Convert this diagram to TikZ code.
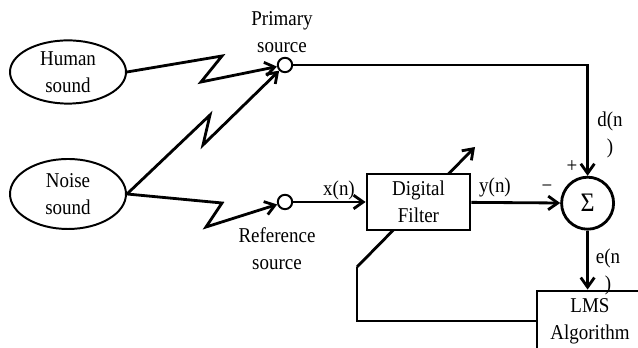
\documentclass[tikz,border=0pt]{standalone}
\usepackage{fontspec}
\setmainfont{Liberation Serif}[FakeStretch=0.9]
\usetikzlibrary{arrows.meta,shapes.geometric}

\tikzset{
  src/.style={ellipse, draw, line width=1.4pt, inner sep=0pt, align=center},
  pick/.style={circle, draw, line width=1.4pt, fill=white, minimum size=0.36cm, inner sep=0pt},
  blk/.style={rectangle, draw, line width=2pt, fill=white, align=center, inner sep=0pt},
  lbl/.style={align=center, inner sep=0pt},
  sig/.style={line width=2pt},
  arr/.style={sig, -{Straight Barb[length=2.4mm,width=3.4mm]}},
}

\begin{document}
\begin{tikzpicture}[font=\fontsize{15}{19.2}\selectfont]
  \useasboundingbox (0,0) rectangle (15.95,8.7);
  % sources
  \node[src, minimum width=2.9cm, minimum height=1.58cm] (human) at (1.70,6.90) {Human\\sound};
  \node[src, minimum width=2.9cm, minimum height=1.75cm] (noise) at (1.70,3.85) {Noise\\sound};
  % pick-up points
  \node[pick] (prim) at (7.125,7.075) {};
  \node[pick] (ref) at (7.125,3.65) {};
  \node[lbl] (primlbl) at (7.05,7.90) {Primary\\source};
  \node[lbl] (reflbl) at (6.925,2.475) {Reference\\source};
  % adder and LMS block
  \node[circle, draw, line width=2pt, minimum size=1.3cm, inner sep=0pt, font=\fontsize{19}{20}\selectfont] (sum) at (14.69,3.62) {Σ};
  \node[blk, minimum width=2.65cm, minimum height=1.5cm] (lms) at (14.75,0.675) {LMS\\Algorithm};
  % feedback path, drawn before the filter so the box hides it
  \coordinate (fbknee) at (8.925,2.025);
  \coordinate (adj) at (11.875,5.025);
  \draw[sig] (lms.west) -| (fbknee);
  \draw[arr] (fbknee) -- (adj);
  \node[blk, minimum width=2.575cm, minimum height=1.4cm] (filt) at (10.4625,3.65) {Digital\\Filter};
  % acoustic paths
  \draw[arr] (human.east) -- (5.55,7.30) -- (5.025,6.65) -- (prim);
  \draw[arr] (noise.east) -- (5.25,5.825) -- (5.075,5.075) -- (prim);
  \draw[arr] (noise.east) -- (5.55,3.625) -- (5.15,3.025) -- (ref);
  % signal paths
  \draw[arr] (ref) -- (filt);
  \draw[arr] (filt) -- (sum);
  \draw[arr] (prim) -| (sum);
  \draw[arr] (sum.south) -- (sum.south |- lms.north);
  % signal labels
  \node[lbl] (xn) at (8.475,3.95) {x(n)};
  \node[lbl] (yn) at (12.375,4.025) {y(n)};
  \node[lbl] (minus) at (13.675,3.975) {−};
  \node[lbl] (plus) at (14.30,4.525) {+};
  \node[lbl] (dn) at (15.25,5.325) {d(n\\)};
  \node[lbl] (en) at (15.20,1.90) {e(n\\)};
\end{tikzpicture}
\end{document}
